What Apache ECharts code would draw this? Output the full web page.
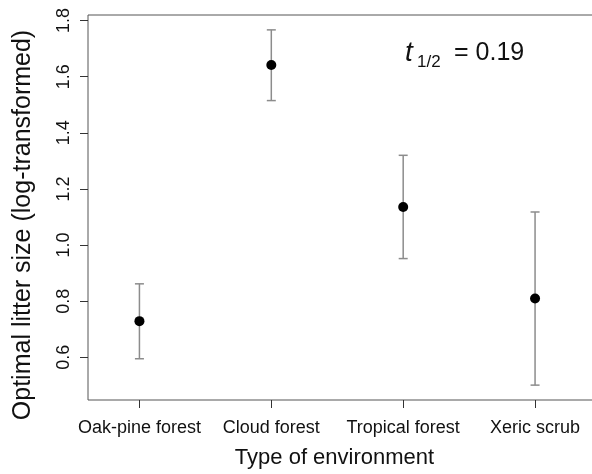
<!DOCTYPE html>
<html>
<head>
<meta charset="utf-8">
<script src="https://cdn.jsdelivr.net/npm/echarts@6/dist/echarts.min.js"></script>
<style>html,body{margin:0;padding:0;background:#fff;}#c{width:592px;height:474px;}</style>
</head>
<body>
<div id="c"></div>
<script>
const categories = ['Oak-pine forest', 'Cloud forest', 'Tropical forest', 'Xeric scrub'];
const means = [0.729, 1.642, 1.136, 0.810];
const lower = [0.595, 1.515, 0.952, 0.501];
const upper = [0.862, 1.767, 1.320, 1.118];
const yTicks = [0.6, 0.8, 1.0, 1.2, 1.4, 1.6, 1.8];
const xPositions = [1, 2, 3, 4];

const FONT = 'Liberation Sans, Arial, sans-serif';
const chart = echarts.init(document.getElementById('c'), null, {renderer: 'canvas'});

const errData = xPositions.map((x, i) => [x, lower[i], upper[i]]);
const ptData = xPositions.map((x, i) => [x, means[i]]);

chart.setOption({
  animation: false,
  backgroundColor: '#ffffff',
  grid: {left: 88, top: 15, height: 385, width: 513, outerBoundsMode: 'none', containLabel: false, show: true, borderColor: '#555', borderWidth: 1, backgroundColor: 'transparent'},
  xAxis: {
    type: 'value', min: 0.61, max: 4.5,
    axisLine: {show: false},
    splitLine: {show: false},
    axisTick: {show: true, length: 8, customValues: xPositions, lineStyle: {color: '#333'}},
    axisLabel: {customValues: xPositions, formatter: v => categories[Math.round(v) - 1], color: '#111', fontFamily: FONT, fontSize: 18, margin: 19},
    name: 'Type of environment', nameLocation: 'middle', nameGap: 47,
    nameTextStyle: {fontFamily: FONT, fontSize: 22, color: '#111', padding: [0, 20, 0, 0]}
  },
  yAxis: {
    type: 'value', min: 0.448, max: 1.82,
    axisLine: {show: false},
    splitLine: {show: false},
    axisTick: {show: true, length: 8, customValues: yTicks, lineStyle: {color: '#333'}},
    axisLabel: {customValues: yTicks, formatter: v => v.toFixed(1), rotate: 90, color: '#111', fontFamily: FONT, fontSize: 18, margin: 15},
    name: 'Optimal litter size (log-transformed)', nameLocation: 'middle', nameGap: 52, nameRotate: 90,
    nameTextStyle: {fontFamily: FONT, fontSize: 25, color: '#111', padding: [0, 35, 0, 0]}
  },
  series: [
    {
      type: 'custom',
      data: errData,
      renderItem: function (params, api) {
        const x = api.value(0);
        const lo = api.coord([x, api.value(1)]);
        const hi = api.coord([x, api.value(2)]);
        const w = 4.5;
        const st = {stroke: '#8c8c8c', lineWidth: 1.5};
        return {type: 'group', children: [
          {type: 'line', shape: {x1: lo[0], y1: lo[1], x2: hi[0], y2: hi[1]}, style: st},
          {type: 'line', shape: {x1: lo[0] - w, y1: lo[1], x2: lo[0] + w, y2: lo[1]}, style: st},
          {type: 'line', shape: {x1: hi[0] - w, y1: hi[1], x2: hi[0] + w, y2: hi[1]}, style: st}
        ]};
      },
      z: 2
    },
    {
      type: 'scatter',
      data: ptData,
      symbol: 'circle',
      symbolSize: 10,
      itemStyle: {color: '#000', opacity: 1},
      z: 3
    }
  ],
  graphic: [
    {type: 'text', left: 405, top: 39, style: {text: 't', font: 'italic 28px ' + FONT, fill: '#111'}},
    {type: 'text', left: 417, top: 54, style: {text: '1/2', font: '17px ' + FONT, fill: '#111'}},
    {type: 'text', left: 454, top: 41, style: {text: '= 0.19', font: '25px ' + FONT, fill: '#111'}}
  ]
});
</script>
</body>
</html>
